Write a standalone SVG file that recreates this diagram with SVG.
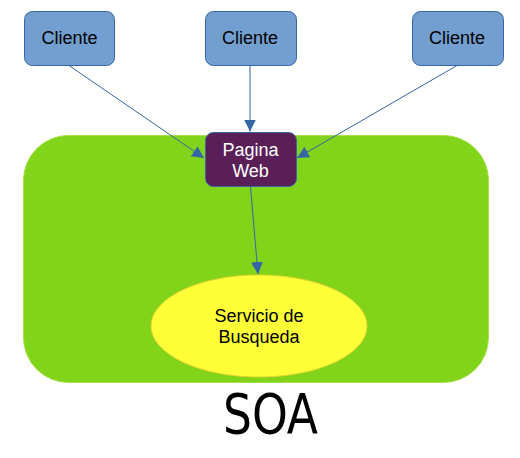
<svg xmlns="http://www.w3.org/2000/svg" width="520" height="458" viewBox="0 0 520 458">
<style>
.client rect{fill:#729fcf;stroke:#3465a4;stroke-width:1}
.lbl{font-family:"Liberation Sans",Arial,sans-serif;font-size:18px;text-anchor:middle}
.conn line{stroke:#3465a4;stroke-width:1;marker-end:url(#ah)}
</style>
<defs>
<marker id="ah" viewBox="0 0 10 10" refX="10" refY="5" markerWidth="12" markerHeight="12" markerUnits="userSpaceOnUse" orient="auto">
<path d="M0,0 L10,5 L0,10 z" fill="#3465a4"/>
</marker>
</defs>
<rect width="520" height="458" fill="#fff"/>
<g id="soa">
<rect x="23.5" y="135.5" width="465" height="247" rx="45" ry="45" fill="#81d41a" stroke="#a6e04a"/>
<text x="223" y="433" font-family="'DejaVu Sans Condensed','DejaVu Sans',sans-serif" font-size="56" textLength="95" lengthAdjust="spacingAndGlyphs" fill="#000">SOA</text>
</g>
<g id="cliente1" class="client">
<rect x="24.5" y="11.5" width="90" height="54" rx="8"/>
<text class="lbl" x="69.5" y="44">Cliente</text>
</g>
<g id="cliente2" class="client">
<rect x="205.5" y="11.5" width="91" height="54" rx="8"/>
<text class="lbl" x="250" y="44">Cliente</text>
</g>
<g id="cliente3" class="client">
<rect x="412.5" y="11.5" width="91" height="54" rx="8"/>
<text class="lbl" x="457" y="44">Cliente</text>
</g>
<g id="pagina">
<rect x="205.5" y="132.5" width="91" height="54" rx="8" fill="#5b1f57" stroke="#3465a4"/>
<text class="lbl" x="250.5" y="156" fill="#fff">Pagina</text>
<text class="lbl" x="250.5" y="177" fill="#fff">Web</text>
</g>
<g id="servicio">
<ellipse cx="259" cy="326" rx="108" ry="51" fill="#ffff38" stroke="#e8d62e"/>
<text class="lbl" x="259" y="322">Servicio de</text>
<text class="lbl" x="259" y="343">Busqueda</text>
</g>
<g class="conn">
<line x1="69" y1="65.5" x2="204" y2="158"/>
<line x1="250" y1="65.5" x2="250" y2="131.5"/>
<line x1="457" y1="65.5" x2="297" y2="158"/>
<line x1="250.5" y1="187" x2="258" y2="274"/>
</g>
</svg>
